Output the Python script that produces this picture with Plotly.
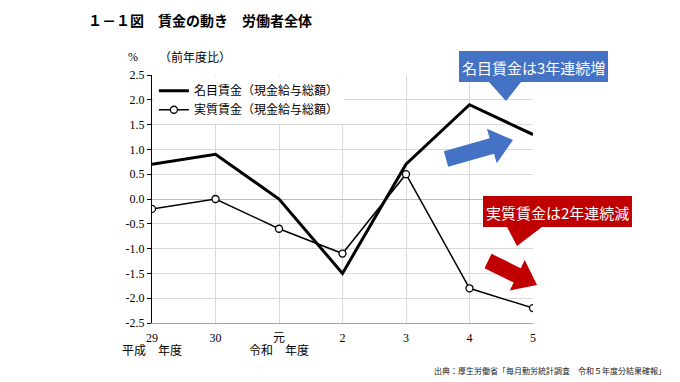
import math
import plotly.graph_objects as go

# ---- data ----
categories = ["29", "30", "元", "2", "3", "4", "5"]
nominal_wage = [0.7, 0.9, 0.0, -1.5, 0.7, 1.9, 1.3]
real_wage = [-0.2, 0.0, -0.6, -1.1, 0.5, -1.8, -2.2]
series_names = ["名目賃金（現金給与総額）", "実質賃金（現金給与総額）"]
y_ticks = [2.5, 2.0, 1.5, 1.0, 0.5, 0.0, -0.5, -1.0, -1.5, -2.0, -2.5]
y_tick_labels = ["2.5", "2.0", "1.5", "1.0", "0.5", "0.0", "-0.5", "-1.0", "-1.5", "-2.0", "-2.5"]
era_labels = ["平成　年度", "令和　年度"]
title_text = "１－１図　賃金の動き　労働者全体"
unit_text = "%"
unit_note = "（前年度比）"
callout_up = "名目賃金は3年連続増"
callout_down = "実質賃金は2年連続減"
source_text = "出典：厚生労働省「毎月勤労統計調査　令和５年度分結果確報」"

# page body has an 8px default margin; figure is offset by it
OFF = 8
W, H = 680 - OFF, 382 - OFF
L, R, T, B = 152, 533, 75, 323  # plot area in page pixels
SERIF = "Liberation Serif, DejaVu Serif, Noto Sans CJK JP"
SANS = "Noto Sans CJK JP, Noto Sans"

xs = list(range(len(categories)))

fig = go.Figure()
fig.add_trace(go.Scatter(x=xs, y=nominal_wage, mode="lines", name=series_names[0],
                         line=dict(color="black", width=3)))
fig.add_trace(go.Scatter(x=xs, y=real_wage, mode="lines+markers", name=series_names[1],
                         line=dict(color="black", width=1.5),
                         marker=dict(symbol="circle", size=7, color="white",
                                     line=dict(color="black", width=1.3))))


def px(x, y):
    return ((x - L) / (R - L), (B - y) / (B - T))


def path_from(points):
    s = ""
    for i, (x, y) in enumerate(points):
        u, v = px(x, y)
        s += ("M" if i == 0 else "L") + f"{u:.4f},{v:.4f} "
    return s + "Z"


def arrow(sx, sy, tx, ty, half_shaft, half_head, head_len):
    dx, dy = tx - sx, ty - sy
    n = math.hypot(dx, dy)
    dx, dy = dx / n, dy / n
    nx, ny = -dy, dx
    hx, hy = tx - dx * head_len, ty - dy * head_len
    return [
        (sx + nx * half_shaft, sy + ny * half_shaft),
        (hx + nx * half_shaft, hy + ny * half_shaft),
        (hx + nx * half_head, hy + ny * half_head),
        (tx, ty),
        (hx - nx * half_head, hy - ny * half_head),
        (hx - nx * half_shaft, hy - ny * half_shaft),
        (sx - nx * half_shaft, sy - ny * half_shaft),
    ]


BLUE = "#4472C4"
RED = "#C00000"
shapes = []
shapes.append(dict(type="path", xref="paper", yref="paper", line=dict(width=0), fillcolor=BLUE,
                   path=path_from([(459, 51), (608, 51), (608, 82), (521, 82), (506, 101),
                                   (489, 82), (459, 82)])))
shapes.append(dict(type="path", xref="paper", yref="paper", line=dict(width=0), fillcolor=BLUE,
                   path=path_from(arrow(446, 159, 513, 140, 8, 18, 22))))
shapes.append(dict(type="path", xref="paper", yref="paper", line=dict(width=0), fillcolor=RED,
                   path=path_from([(483, 196), (632, 196), (632, 227), (542, 227), (517, 246),
                                   (507, 227), (483, 227)])))
shapes.append(dict(type="path", xref="paper", yref="paper", line=dict(width=0), fillcolor=RED,
                   path=path_from(arrow(488, 261, 537, 285, 8, 17, 22))))

annotations = []


def ann(text, x, y, size, family, color="black", xanchor="center", yanchor="middle", bold=False):
    u, v = px(x, y)
    annotations.append(dict(text=f"<b>{text}</b>" if bold else text, x=u, y=v, xref="paper",
                            yref="paper", showarrow=False, xanchor=xanchor, yanchor=yanchor,
                            font=dict(size=size, family=family, color=color)))


ann(title_text, 86, 20, 14, SANS, xanchor="left", bold=True)
ann(unit_text, 133, 57, 12, SERIF)
ann(unit_note, 157, 57, 12, SERIF, xanchor="left")
ann(callout_up, 533, 67, 15, SANS, color="white")
ann(callout_down, 557, 212, 15, SANS, color="white")
ann(era_labels[0], 152, 351, 12, SERIF)
ann(era_labels[1], 279, 351, 12, SERIF)
ann(source_text, 668, 370, 8, SANS, color="#222222", xanchor="right")

fig.update_layout(
    width=W, height=H,
    margin=dict(l=L - OFF, r=(W + OFF) - R, t=T - OFF, b=(H + OFF) - B),
    paper_bgcolor="white", plot_bgcolor="white",
    showlegend=True,
    legend=dict(x=0.005, y=0.995, xanchor="left", yanchor="top", bgcolor="white",
                font=dict(size=12, family=SERIF, color="black"), tracegroupgap=4,
                itemwidth=30),
    shapes=shapes, annotations=annotations,
    xaxis=dict(range=[0, len(categories) - 1], tickvals=xs, ticktext=categories,
               showgrid=True, gridcolor="#d9d9d9", gridwidth=1, zeroline=False,
               showline=True, linecolor="#a6a6a6", linewidth=1, ticks="",
               ticklabelstandoff=4,
               tickfont=dict(size=12, family=SERIF, color="black")),
    yaxis=dict(range=[-2.5, 2.5], tickvals=y_ticks, ticktext=y_tick_labels,
               showgrid=True, gridcolor="#d9d9d9", gridwidth=1, zeroline=True,
               zerolinecolor="#bfbfbf", zerolinewidth=1,
               showline=True, linecolor="black", linewidth=1.3, ticks="outside",
               ticklen=4, tickcolor="black",
               tickfont=dict(size=12, family=SERIF, color="black")),
)

fig.write_html("out.html")
